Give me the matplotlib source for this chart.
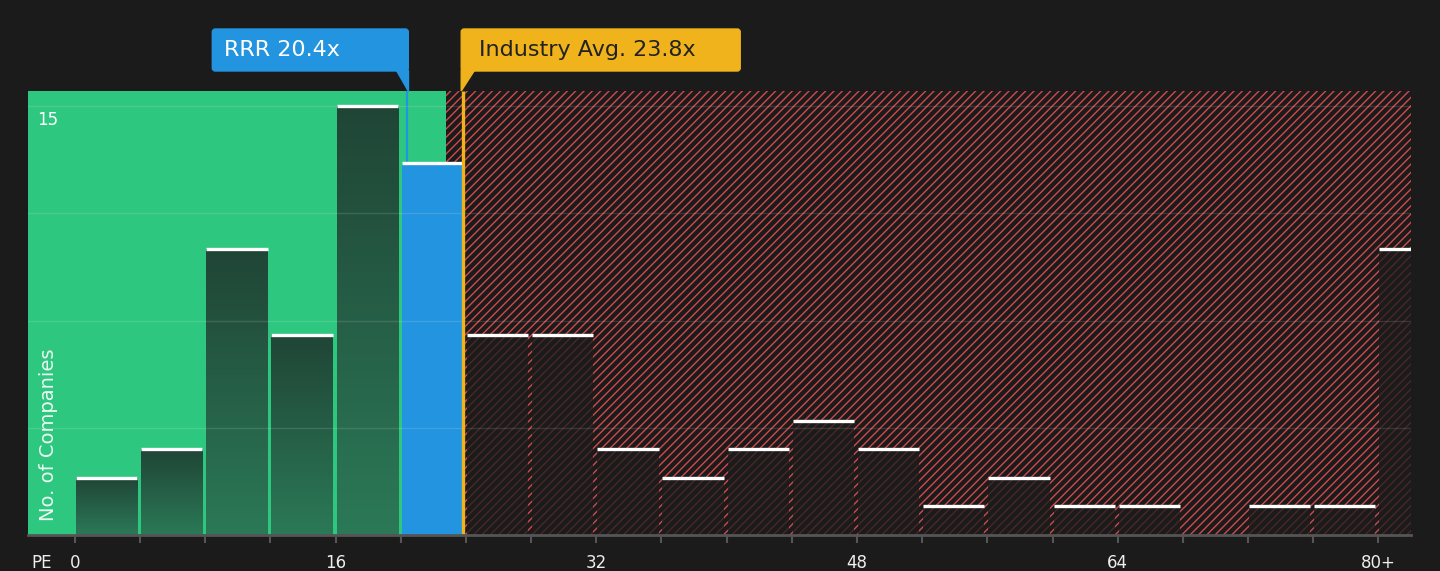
import numpy as np
import matplotlib
matplotlib.use("Agg")
import matplotlib.pyplot as plt
from matplotlib.patches import Rectangle, Polygon, FancyBboxPatch
from matplotlib.colors import LinearSegmentedColormap
from matplotlib.transforms import IdentityTransform

# datos del histograma PE
bin_edges = list(range(0, 84, 4))
counts = [2, 3, 10, 7, 15, 13, 7, 7, 3, 2, 3, 4, 3, 1, 2, 1, 1, 0, 1, 1, 10]
tick_vals = [0, 16, 32, 48, 64, 80]
tick_labels = ["0", "16", "32", "48", "64", "80+"]
company = "RRR"
company_pe = 20.4
industry_pe = 23.8
fair_limit = 22.8
y_max = 15

# colores
bg = "#1b1b1b"
green = "#2ec77f"
blue = "#2394df"
yellow = "#f0b31b"
red = "#d04a4c"

plt.rcParams["hatch.linewidth"] = 1.0
plt.rcParams["font.family"] = "DejaVu Sans"

W, H = 1440, 571
fig = plt.figure(figsize=(W / 100, H / 100), dpi=100, facecolor=bg)
ax = fig.add_axes([28 / W, 36 / H, (1411 - 28) / W, 444 / H])
ax.set_facecolor(bg)

xmin, xmax = -2.88, 82.0
ytop = y_max * 1.035

# zona verde y zona roja rayada
ax.add_patch(Rectangle((xmin, 0), fair_limit - xmin, ytop, facecolor=green,
                       edgecolor="none", zorder=0))
ax.add_patch(Rectangle((fair_limit, 0), xmax - fair_limit + 1, ytop, facecolor="none",
                       edgecolor=red, hatch="////", linewidth=0, zorder=0.5))

cmap = LinearSegmentedColormap.from_list("g", ["#2b7957", "#204536"])
grad = np.linspace(0, 1, 256).reshape(-1, 1)
bw = 3.76
for e, c in zip(bin_edges, counts):
    x0 = e + 0.06
    if c == 0:
        continue
    if e + 4 <= company_pe:
        ax.imshow(grad, cmap=cmap, extent=(x0, x0 + bw, 0, c), origin="lower",
                  aspect="auto", zorder=2)
    elif e <= company_pe < e + 4:
        ax.bar(x0, c, width=bw, align="edge", color=blue, zorder=2)
    else:
        ax.bar(x0, c, width=bw, align="edge", color=bg, alpha=0.75, zorder=2)
    ax.hlines(c, x0, x0 + bw, color="white", lw=2.4, zorder=4)

# lineas de referencia
ax.vlines(company_pe, counts[5], ytop, color=blue, lw=1.6, zorder=3)
ax.vlines(industry_pe, 0, ytop, color=yellow, lw=2.4, zorder=5)

# rejilla
for g in np.linspace(y_max / 4, y_max, 4):
    ax.axhline(g, color="white", alpha=0.12, lw=1, zorder=3)

ax.set_xlim(xmin, xmax)
ax.set_ylim(0, ytop)
for s in ["top", "right", "left"]:
    ax.spines[s].set_visible(False)
ax.spines["bottom"].set_color("#555555")
ax.spines["bottom"].set_linewidth(2)
ax.spines["bottom"].set_zorder(6)
ax.set_yticks([])
ax.set_xticks(tick_vals)
ax.set_xticklabels(tick_labels)
ax.set_xticks(bin_edges, minor=True)
ax.tick_params(axis="x", which="both", length=6, width=1.5, color="#555555",
               labelcolor="#eeeeee", labelsize=12, pad=8)

ax.text(-2.3, y_max - 0.5, str(y_max), color="white", fontsize=12, va="center",
        ha="left", zorder=6)
ax.text(-1.65, 0.5, "No. of Companies", color="white", alpha=0.9, fontsize=14,
        rotation=90, ha="center", va="bottom", zorder=6)
fig.text(42, H - 563, "PE", transform=IdentityTransform(), color="#eeeeee",
         fontsize=12, ha="center", va="center")

# etiquetas superiores
fig.canvas.draw()
top = H - 91
bot = H - 71
box_h = 42
xr = ax.transData.transform((company_pe, 0))[0]
xi = ax.transData.transform((industry_pe, 0))[0]

fig.add_artist(FancyBboxPatch((xr - 195, bot), 196, box_h,
                              boxstyle="round,pad=0,rounding_size=3",
                              transform=IdentityTransform(), color=blue))
fig.add_artist(Polygon([(xr - 11, bot + 1), (xr + 1, bot + 1), (xr + 1, top)],
                       closed=True, transform=IdentityTransform(), color=blue))
fig.text(xr - 183, bot + box_h / 2, f"{company} {company_pe}x",
         transform=IdentityTransform(), color="white", fontsize=16, va="center")

fig.add_artist(FancyBboxPatch((xi - 1.5, bot), 279, box_h,
                              boxstyle="round,pad=0,rounding_size=3",
                              transform=IdentityTransform(), color=yellow))
fig.add_artist(Polygon([(xi - 1.5, bot + 1), (xi + 12, bot + 1), (xi - 1.5, top)],
                       closed=True, transform=IdentityTransform(), color=yellow))
fig.text(xi + 16, bot + box_h / 2, f"Industry Avg. {industry_pe}x",
         transform=IdentityTransform(), color="#222222", fontsize=16, va="center")

fig.savefig("out.png", dpi=100, facecolor=bg)
